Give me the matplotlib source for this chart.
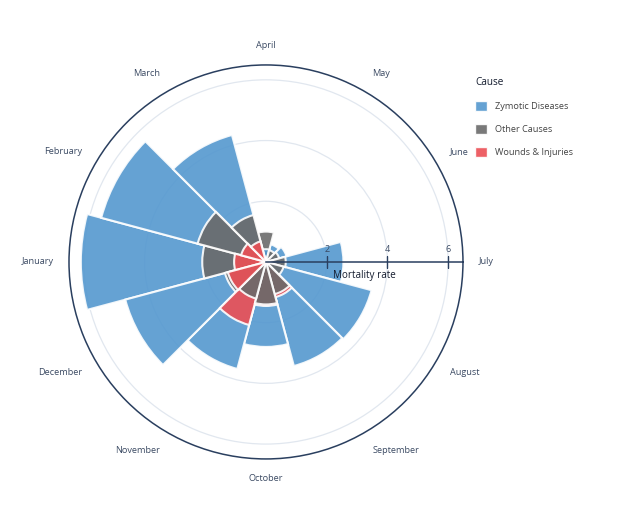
import numpy as np
import matplotlib.pyplot as plt
from matplotlib.patches import Patch

plt.rcParams['font.family'] = ['Open Sans', 'DejaVu Sans']

# data (mortality rate per month)
months = ['January', 'February', 'March', 'April', 'May', 'June',
          'July', 'August', 'September', 'October', 'November', 'December']
zymotic = [6.1, 5.62, 4.33, 0.42, 0.6, 0.7, 2.55, 3.6, 3.55, 2.8, 3.65, 4.8]
other = [2.1, 2.33, 1.6, 1.0, 0.4, 0.45, 0.65, 0.6, 1.1, 1.4, 1.25, 1.4]
wounds = [1.05, 0.85, 0.7, 0.0, 0.0, 0.0, 0.0, 0.1, 1.2, 1.45, 2.15, 1.3]

causes = ['Zymotic Diseases', 'Other Causes', 'Wounds & Injuries']
colors = ['#5498cf', '#6a6a6a', '#ec4f55']
r_ticks = [2, 4, 6]
r_max = 6.49

navy = '#2a3f5f'
txt = '#3b4a63'

# July sits at east, months run clockwise
ang = [((i - 6) % 12) * 30 for i in range(12)]
theta = np.deg2rad(ang)

fig = plt.figure(figsize=(6.4, 5.25), dpi=100)
ax = fig.add_axes([0.1078, 0.1258, 0.6156, 0.7505], projection='polar')
ax.set_theta_zero_location('E')
ax.set_theta_direction(-1)
ax.set_rlim(0, r_max)
ax.set_axisbelow(True)

containers = []
for vals, col in zip([zymotic, other, wounds], colors):
    bc = ax.bar(theta, vals, width=np.pi / 6, color=col, alpha=0.9,
                edgecolor='white', linewidth=1.5, align='center')
    containers.append(bc)

# per month, larger bars go underneath so the smaller stay visible
for i in range(12):
    vals = [zymotic[i], other[i], wounds[i]]
    order = np.argsort(vals)[::-1]
    for rank, k in enumerate(order):
        containers[k].patches[i].set_zorder(2 + rank)

# radial axis
ax.set_yticks(r_ticks)
ax.set_yticklabels([])
ax.yaxis.grid(True, color='#e1e7ef', linewidth=0.9)
ax.xaxis.grid(False)
ax.plot([0, 0], [0, r_max], color=navy, linewidth=1.1, zorder=10, clip_on=False)
ax.plot(np.zeros(len(r_ticks)), r_ticks, ls='none', marker='|', ms=9,
        mew=1.0, color=navy, zorder=10)
for r in r_ticks:
    ax.annotate(str(r), (0, r), xytext=(0, 6), textcoords='offset points',
                ha='center', va='bottom', fontsize=6.5, color=txt, zorder=11)
ax.annotate('Mortality rate', (0, r_max / 2), xytext=(0, -5.5),
            textcoords='offset points', ha='center', va='top',
            fontsize=7.1, color='#141c2e', zorder=11)

# angular axis: ticks outside, labels placed by hand around the rim
ax.set_xticks(theta)
ax.set_xticklabels([])
ax.tick_params(axis='x', direction='out', length=5, width=0.9, color=navy)
ax.spines['polar'].set_color(navy)
ax.spines['polar'].set_linewidth(1.1)
for a, t, name in zip(ang, theta, months):
    c, s = np.cos(np.deg2rad(a)), -np.sin(np.deg2rad(a))
    ha = 'left' if c > 0.1 else ('right' if c < -0.1 else 'center')
    va = 'bottom' if s > 0.1 else ('top' if s < -0.1 else 'center')
    ax.annotate(name, (t, r_max), xytext=(11 * c, 11 * s),
                textcoords='offset points', ha=ha, va=va,
                fontsize=6.6, color=txt, annotation_clip=False)

handles = [Patch(facecolor=c, alpha=0.9, edgecolor='white') for c in colors]
leg = fig.legend(handles, causes, loc='upper left',
                 bbox_to_anchor=(467 / 640, 1 - 69 / 525), frameon=False,
                 title='Cause', fontsize=6.6, title_fontsize=7.2,
                 handlelength=1.3, handleheight=1.3, labelspacing=1.4,
                 handletextpad=0.85, alignment='left')
for t in leg.get_texts():
    t.set_color('#444444')
leg.get_title().set_color('#141c2e')

plt.savefig('out.png', dpi=100)
